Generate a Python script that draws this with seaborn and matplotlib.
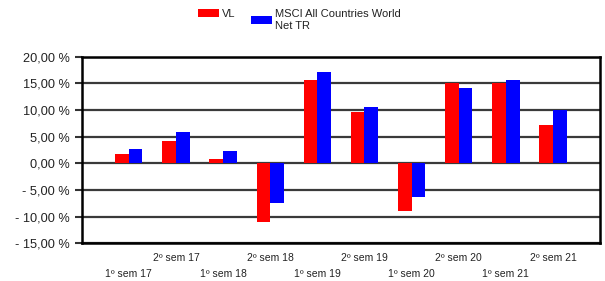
import pandas as pd
import numpy as np
import matplotlib
matplotlib.use('Agg')
import matplotlib.pyplot as plt
import matplotlib.transforms as mtransforms
from matplotlib.patches import Patch
import seaborn as sns

# Données
periodos = ['1º sem 17', '2º sem 17', '1º sem 18', '2º sem 18', '1º sem 19',
            '2º sem 19', '1º sem 20', '2º sem 20', '1º sem 21', '2º sem 21']
vl = [1.7, 4.25, 0.8, -11.05, 15.55, 9.7, -8.9, 15.0, 15.0, 7.2]
msci = [2.75, 5.85, 2.25, -7.4, 17.1, 10.5, -6.4, 14.1, 15.7, 9.95]
series = ['VL', 'MSCI All Countries World\nNet TR']
couleurs = ['#ff0000', '#0000ff']
y_ticks = [-15, -10, -5, 0, 5, 10, 15, 20]

df = pd.DataFrame({
    'periodo': periodos * 2,
    'valor': vl + msci,
    'serie': [series[0]] * len(vl) + [series[1]] * len(msci),
})

sns.set_theme(style='white')
plt.rcParams['font.family'] = ['Liberation Sans', 'DejaVu Sans']
plt.rcParams['text.color'] = '#222222'

fig = plt.figure(figsize=(6.05, 2.81), dpi=100)
ax = fig.add_axes([0.135, 0.134, 0.857, 0.664])

sns.barplot(data=df, x='periodo', y='valor', hue='serie', order=periodos,
            hue_order=series, palette=couleurs, width=0.58, errorbar=None,
            saturation=1, legend=False, linewidth=0, ax=ax)

ax.set_xlim(-1, 10)
ax.set_ylim(-15, 20)
ax.set_yticks(y_ticks)

def fmt(v):
    s = f"{abs(v):.2f}".replace('.', ',') + " %"
    return "- " + s if v < 0 else s

ax.set_yticklabels([fmt(v) for v in y_ticks], fontsize=9.2, color='#222222')
ax.tick_params(axis='y', length=5, width=1.5, color='#333333', pad=3.5, left=True)
ax.tick_params(axis='x', length=0)
ax.set_xticks(range(len(periodos)))
ax.set_xticklabels([])
ax.set_xlabel('')
ax.set_ylabel('')

ax.set_axisbelow(True)
ax.yaxis.grid(True, color='#3a3a3a', linewidth=1.6)
ax.xaxis.grid(False)
for sp in ax.spines.values():
    sp.set_visible(True)
    sp.set_color('black')
    sp.set_linewidth(1.8)

# étiquettes en quinconce
trans = mtransforms.blended_transform_factory(ax.transData, ax.transAxes)
for i, p in enumerate(periodos):
    y = -0.165 if i % 2 == 0 else -0.076
    ax.text(i, y, p, transform=trans, ha='center', va='center',
            fontsize=7.5, color='#222222')

# légende : deux blocs séparés
leg_x = [198 / 605, 251 / 605]
leg_y = [1 - 9 / 281, 1 - 9 / 281]
for c, s, lx, ly in zip(couleurs, series, leg_x, leg_y):
    leg = fig.legend([Patch(facecolor=c, edgecolor='none')], [s], loc='upper left',
                     bbox_to_anchor=(lx, ly), frameon=False, fontsize=8,
                     handlelength=1.85, handleheight=0.7, handletextpad=0.35,
                     borderpad=0, borderaxespad=0)

fig.savefig('out.png', dpi=100)
